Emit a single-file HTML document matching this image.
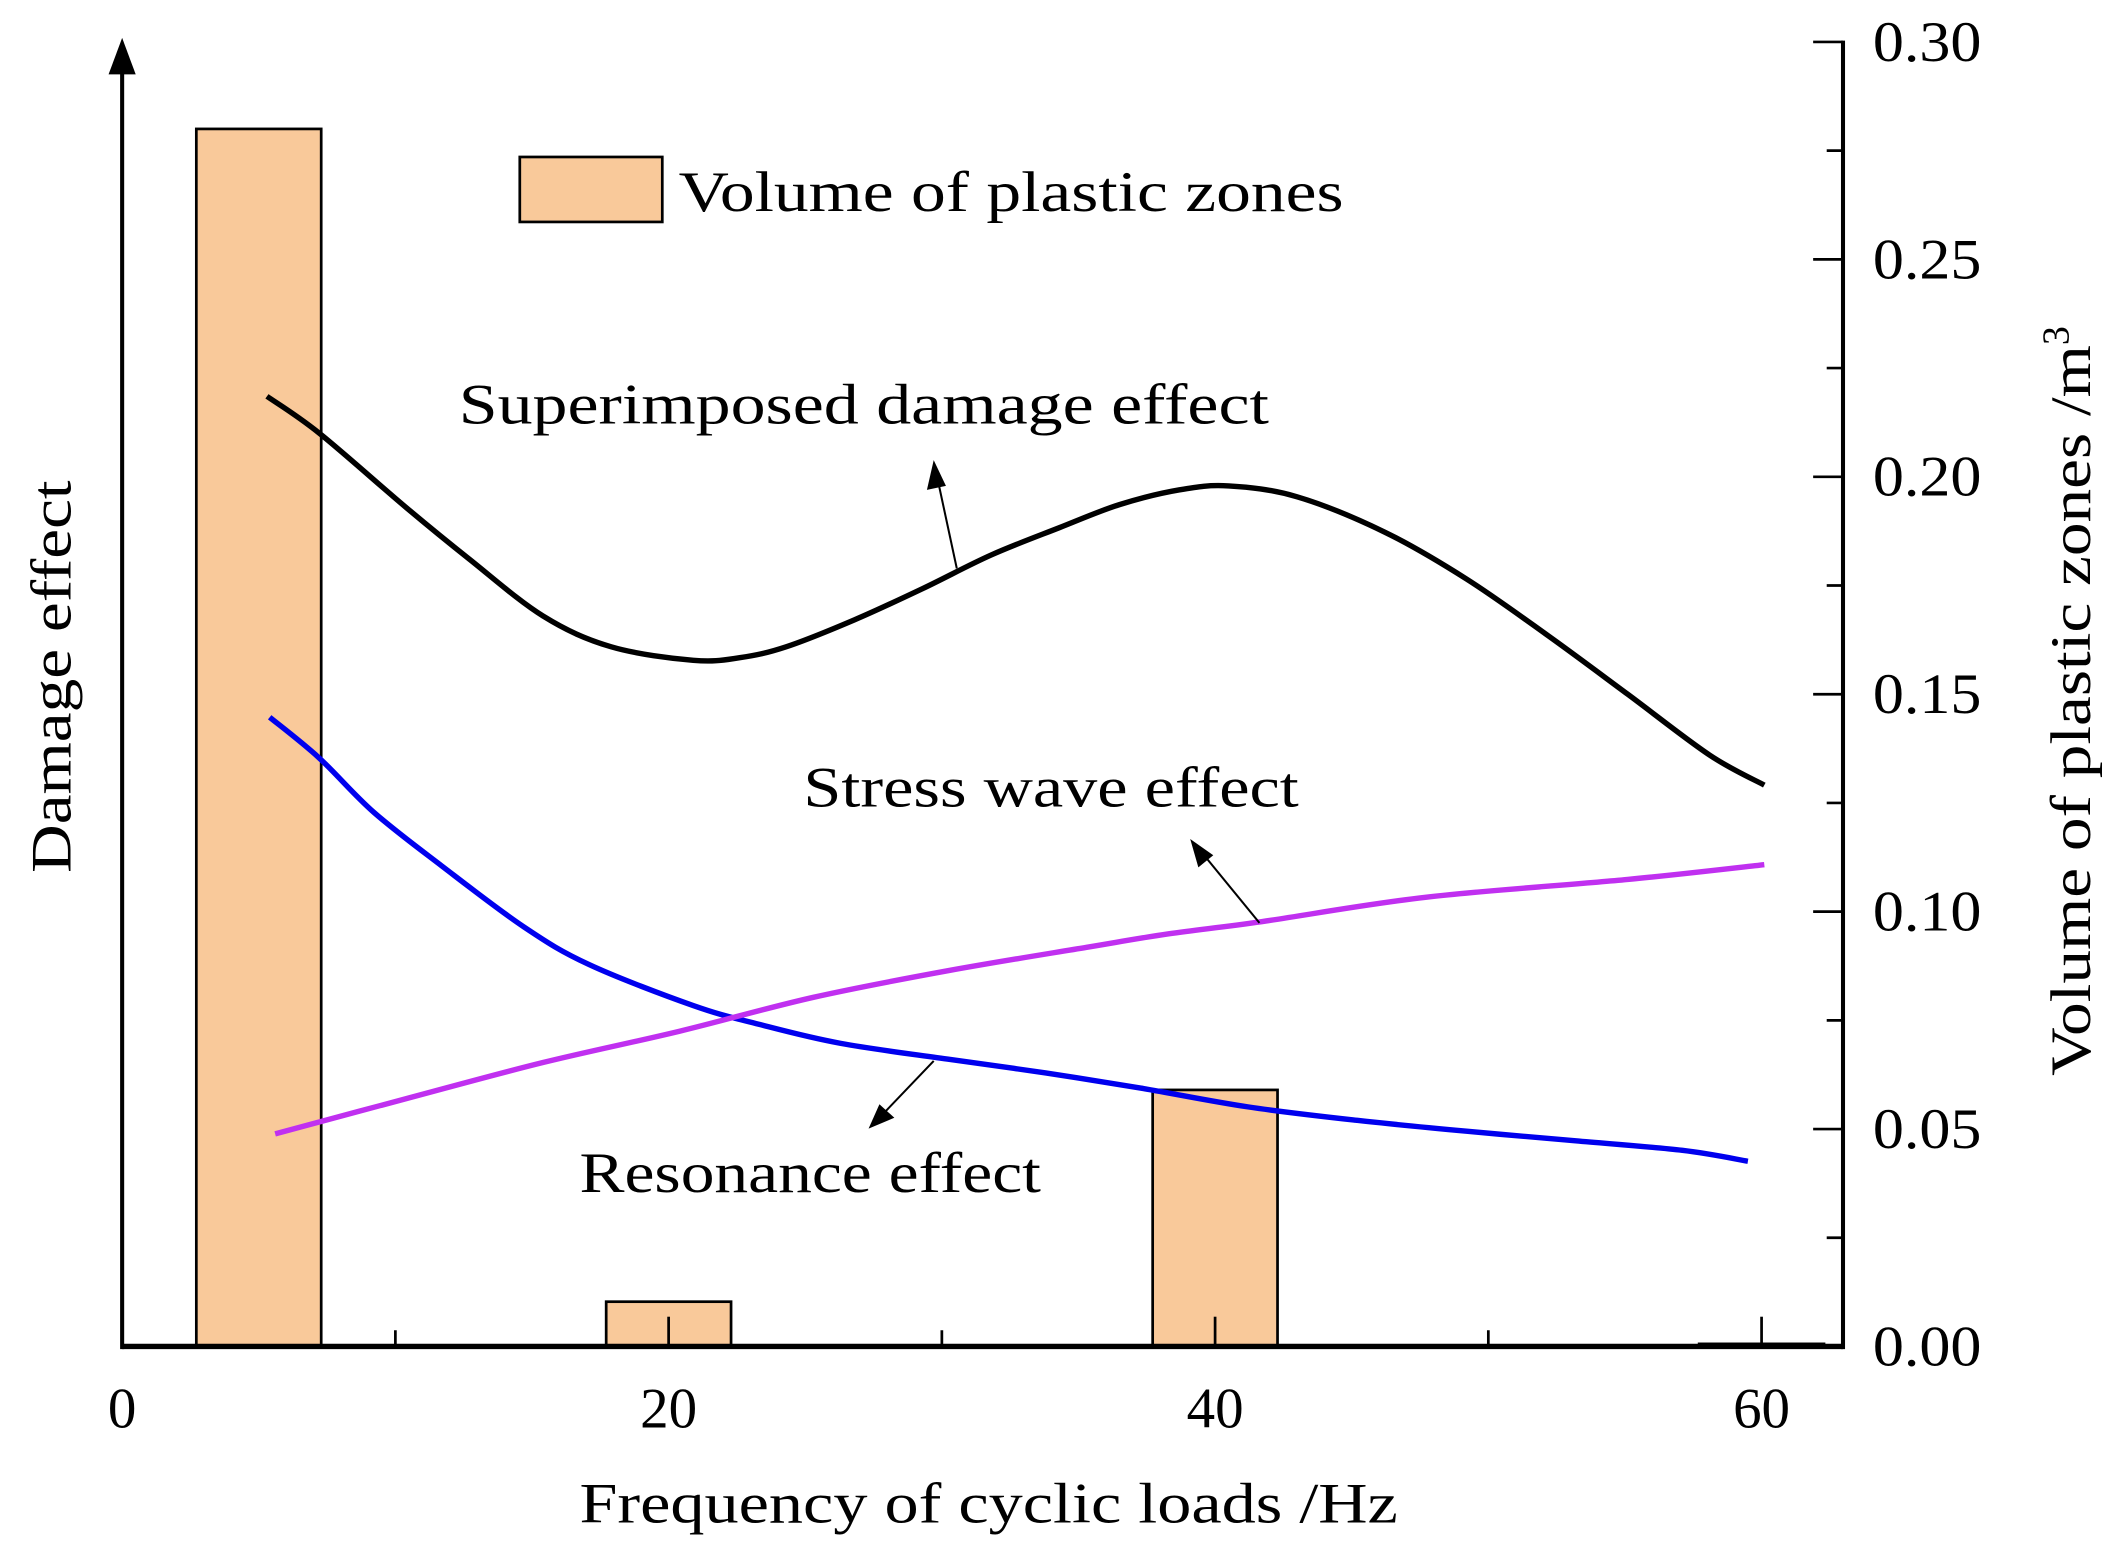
<!DOCTYPE html>
<html><head><meta charset="utf-8"><style>
html,body{margin:0;padding:0;background:#fff}
svg{display:block}
text{font-family:"Liberation Serif",serif;fill:#000}
</style></head><body>
<svg id="chart" width="2128" height="1563" viewBox="0 0 1568 1155" preserveAspectRatio="none" xmlns="http://www.w3.org/2000/svg">
<g id="bars"></g>
<g id="lines"></g>
<g id="axes"></g>
<g>
<rect x="383" y="116" width="105" height="48" fill="#f9c99a" stroke="#000" stroke-width="2"/>
<text x="500" y="156" font-size="42" textLength="490" lengthAdjust="spacingAndGlyphs">Volume of plastic zones</text>
</g>
<g>
<text x="338" y="313" font-size="42" textLength="597" lengthAdjust="spacingAndGlyphs">Superimposed damage effect</text>
<text x="592" y="596" font-size="42" textLength="365" lengthAdjust="spacingAndGlyphs">Stress wave effect</text>
<text x="427" y="881" font-size="42" textLength="340" lengthAdjust="spacingAndGlyphs">Resonance effect</text>
<line x1="705" y1="420" x2="690" y2="350" stroke="#000" stroke-width="1.5"/>
<polygon points="688,340 683,362 697,359" fill="#000"/>
<line x1="928" y1="682" x2="884" y2="628" stroke="#000" stroke-width="1.5"/>
<polygon points="877,620 883,641 894,632" fill="#000"/>
<line x1="688" y1="784" x2="647" y2="827" stroke="#000" stroke-width="1.5"/>
<polygon points="640,834 659,826 648,816" fill="#000"/>
</g>
<text x="427" y="1125" font-size="42" textLength="603" lengthAdjust="spacingAndGlyphs">Frequency of cyclic loads /Hz</text>
<text transform="translate(52,645) rotate(-90)" font-size="42" textLength="290" lengthAdjust="spacingAndGlyphs">Damage effect</text>
<text transform="translate(1540,795) rotate(-90)" font-size="42"><tspan textLength="540" lengthAdjust="spacingAndGlyphs">Volume of plastic zones /m</tspan><tspan font-size="28" dy="-16">3</tspan></text>
</svg>
<script>
const barFreq=[5,20,40,60];
const barVolume=[0.280,0.0103,0.059,0.0006];
const xTicks=[0,20,40,60];
const yTicks=[0,0.05,0.10,0.15,0.20,0.25,0.30];
const yTickLabels=["0.00","0.05","0.10","0.15","0.20","0.25","0.30"];
const superFreq=[5.3,7.2,10.4,12.7,15.4,17.9,20.9,22.6,24.3,26.8,29.3,31.8,34.3,36.5,38.7,40.5,43.0,46.2,49.2,52.2,55.1,58.1,60.1];
const superVal=[0.2185,0.2101,0.1929,0.1811,0.1680,0.1609,0.1578,0.1584,0.1609,0.1671,0.1743,0.1820,0.1883,0.1936,0.1970,0.1979,0.1954,0.1873,0.1765,0.1634,0.1500,0.1360,0.1291];
const resFreq=[5.4,7.2,9.2,11.7,14.7,17.1,20.9,23.3,26.3,30.3,33.8,37.3,41.2,45.2,49.2,53.2,57.1,59.5];
const resVal=[0.1447,0.1354,0.1229,0.1105,0.0965,0.0878,0.0784,0.0741,0.0697,0.0660,0.0629,0.0594,0.0551,0.0520,0.0495,0.0473,0.0451,0.0426];
const stressFreq=[5.6,10.4,15.4,20.4,25.3,30.3,35.3,38.3,41.7,47.7,55.1,60.1];
const stressVal=[0.0489,0.0570,0.0653,0.0725,0.0803,0.0865,0.0918,0.0949,0.0977,0.1033,0.1074,0.1108];
const NS="http://www.w3.org/2000/svg";
const X=f=>90+f*(1298-90)/60;
const Y=v=>995-v*(995-31)/0.30;
function mk(tag,attrs,parent){const e=document.createElementNS(NS,tag);for(const k in attrs)e.setAttribute(k,attrs[k]);parent.appendChild(e);return e;}
const bars=document.getElementById('bars');
const bw=X(4.57)-X(0);
barFreq.forEach((f,i)=>{
 const r=mk('rect',{x:X(f)-bw/2,y:Y(barVolume[i]),width:bw,height:Y(0)-Y(barVolume[i]),fill:'#f9c99a',stroke:'#000','stroke-width':2},bars);
 
 
});
const lines=document.getElementById('lines');
function smooth(pts){
 let d='M'+pts[0][0]+','+pts[0][1];
 for(let i=0;i<pts.length-1;i++){
  const p0=pts[Math.max(0,i-1)],p1=pts[i],p2=pts[i+1],p3=pts[Math.min(pts.length-1,i+2)];
  const c1x=p1[0]+(p2[0]-p0[0])/6,c1y=p1[1]+(p2[1]-p0[1])/6;
  const c2x=p2[0]-(p3[0]-p1[0])/6,c2y=p2[1]-(p3[1]-p1[1])/6;
  d+=' C'+c1x+','+c1y+' '+c2x+','+c2y+' '+p2[0]+','+p2[1];
 }
 return d;
}
function line(fs,vs,color,name){
 const p=mk('path',{d:smooth(fs.map((f,i)=>[X(f),Y(vs[i])])),fill:'none',stroke:color,'stroke-width':4,'stroke-linejoin':'round'},lines);
 
 
}
line(superFreq,superVal,'#000','superimposed-curve');
line(resFreq,resVal,'#0000ee','resonance-curve');
line(stressFreq,stressVal,'#c030f0','stress-wave-curve');
const ax=document.getElementById('axes');
const a1=mk('line',{x1:90,y1:995,x2:1358,y2:995,stroke:'#000','stroke-width':4},ax);


const a2=mk('line',{x1:90,y1:997,x2:90,y2:45,stroke:'#000','stroke-width':3},ax);


const ah=mk('polygon',{points:'90,28 80,55 100,55',fill:'#000'},ax);


const a3=mk('line',{x1:1358,y1:997,x2:1358,y2:30,stroke:'#000','stroke-width':3},ax);


for(let f=10;f<=60;f+=10){
 const major=f%20===0;
 const t=mk('line',{x1:X(f),y1:995,x2:X(f),y2:995-(major?22:12),stroke:'#000','stroke-width':2},ax);
 
 
}
xTicks.forEach(f=>{
 const t=mk('text',{x:X(f),y:1055,'font-size':42,'text-anchor':'middle'},ax);t.textContent=f;
 
 
});
for(let i=0;i<=12;i++){
 const v=i*0.025;const major=i%2===0;
 const t=mk('line',{x1:1358,y1:Y(v),x2:1358-(major?22:12),y2:Y(v),stroke:'#000','stroke-width':2},ax);
 
 
}
yTicks.forEach((v,i)=>{
 const t=mk('text',{x:1380,y:Y(v)+14,'font-size':42,textLength:80,lengthAdjust:'spacingAndGlyphs'},ax);t.textContent=yTickLabels[i];
 
 
});
</script>
</body></html>
